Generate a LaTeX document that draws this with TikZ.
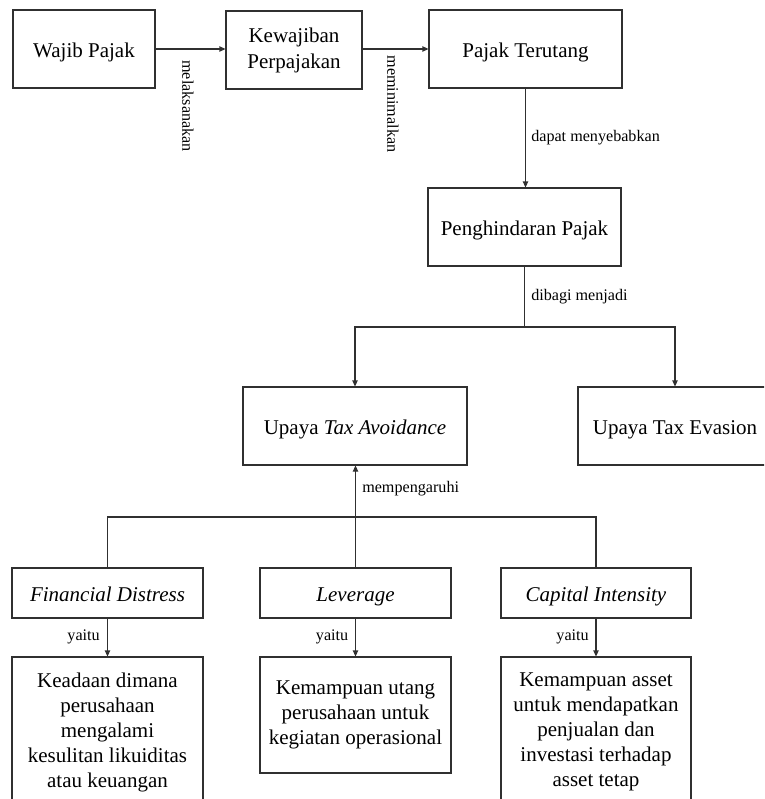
\documentclass[tikz,border=0pt]{standalone}
\usepackage{fontspec}
\setmainfont{Liberation Serif}
\usetikzlibrary{arrows.meta}
\definecolor{linecol}{HTML}{303030}
\begin{document}
\begin{tikzpicture}[x=0.75pt,y=-0.75pt,
  box/.style={draw=linecol, line width=0.8pt, inner sep=0pt, align=center,
    font=\fontsize{15.75}{19.5}\selectfont, text=black},
  onebox/.style={box, text height=13pt, text depth=0pt},
  descbox/.style={box, font=\fontsize{15.75}{18.75}\selectfont},
  lbl/.style={font=\fontsize{12.1}{14}\selectfont, inner sep=0pt, text=black},
  conn/.style={draw=linecol, line width=0.8pt},
  arr/.style={conn, -{Triangle[length=4.5pt,width=4pt]}},
]
\useasboundingbox (0,0) rectangle (764,799);
\clip (0,0) rectangle (764,799);

% top row
\node[onebox, minimum width=106.5pt, minimum height=58.5pt] (wp) at (84,49) {Wajib Pajak};
\node[box, minimum width=102pt, minimum height=58.5pt] (kp) at (294,50) {Kewajiban\\Perpajakan};
\node[onebox, minimum width=144.75pt, minimum height=58.5pt] (pt) at (525.5,49) {Pajak Terutang};
\node[onebox, minimum width=144.75pt, minimum height=58.5pt] (ph) at (524.5,227) {Penghindaran Pajak};

% second level
\node[onebox, minimum width=168pt, minimum height=58.5pt] (uta) at (355,426) {Upaya \textit{Tax Avoidance}};
\node[onebox, minimum width=145.5pt, minimum height=58.5pt] (ute) at (675,426) {Upaya Tax Evasion};

% factors
\node[onebox, minimum width=143.25pt, minimum height=37.5pt] (fd) at (107.5,593) {\textit{Financial Distress}};
\node[onebox, minimum width=143.25pt, minimum height=37.5pt] (lev) at (355.5,593) {\textit{Leverage}};
\node[onebox, minimum width=142.5pt, minimum height=37.5pt] (ci) at (596,593) {\textit{Capital Intensity}};

% descriptions
\node[descbox, minimum width=143.25pt, minimum height=112.5pt] (fdd) at (107.5,732)
  {Keadaan dimana\\perusahaan\\mengalami\\kesulitan likuiditas\\atau keuangan};
\node[descbox, minimum width=143.25pt, minimum height=87pt] (levd) at (355.5,715)
  {Kemampuan utang\\perusahaan untuk\\kegiatan operasional};
\node[descbox, minimum width=142.5pt, minimum height=112.5pt] (cid) at (596,732)
  {Kemampuan asset\\untuk mendapatkan\\penjualan dan\\investasi terhadap\\asset tetap};

% connectors top
\draw[arr] (wp.east) -- (kp.west |- wp.east);
\draw[arr] (kp.east |- pt.west) -- (pt.west);
\draw[arr] (pt.south) -- (pt.south |- ph.north);

% split
\coordinate (s1) at (524.5,327);
\draw[conn, line width=1.3pt] (ph.south) -- (s1);
\draw[arr] (s1) -| (uta.north);
\draw[arr] (s1) -| (ute.north);

% merge
\coordinate (s2) at (355.5,517);
\draw[conn] (fd.north) |- (s2) -| (ci.north);
\draw[arr] (lev.north) -- (lev.north |- uta.south);

% to descriptions
\draw[arr] (fd.south) -- (fdd.north);
\draw[arr] (lev.south) -- (levd.north);
\draw[arr] (ci.south) -- (cid.north);

% labels
\node[lbl, rotate=-90] (l1) at (188,106) {melaksanakan};
\node[lbl, rotate=-90] (l2) at (393,104) {meminimalkan};
\node[lbl, anchor=west] (l3) at (531,138) {dapat menyebabkan};
\node[lbl, anchor=west] (l4) at (531,297) {dibagi menjadi};
\node[lbl, anchor=west] (l5) at (362,489) {mempengaruhi};
\node[lbl, anchor=east] (l6) at (100,637) {yaitu};
\node[lbl, anchor=east] (l7) at (348.5,637) {yaitu};
\node[lbl, anchor=east] (l8) at (589,637) {yaitu};
\end{tikzpicture}
\end{document}
